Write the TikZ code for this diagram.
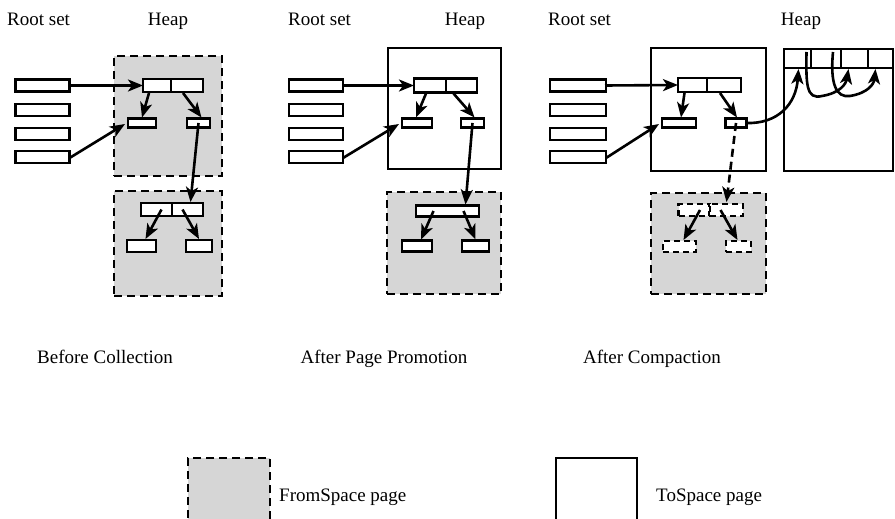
\documentclass[tikz,border=0pt]{standalone}
\usepackage{fontspec}
\setmainfont{Liberation Serif}
\usetikzlibrary{arrows.meta,calc}
\begin{document}
\begin{tikzpicture}[x=1pt,y=-1pt,
  lw/.style={line width=2.6pt},
  cell/.style={lw,draw=black,fill=white,inner sep=0pt,outer sep=0pt,minimum width=#1},
  dcell/.style={cell=#1,dash pattern=on 6pt off 4pt},
  frompage/.style={lw,draw=black,fill=gray!32,dash pattern=on 8pt off 5pt,inner sep=0pt,outer sep=0pt},
  topage/.style={lw,draw=black,fill=white,inner sep=0pt,outer sep=0pt},
  ptr/.style={lw,-{Stealth[length=15pt,width=12pt,inset=4pt]}},
  lbl/.style={font=\fontsize{19}{22}\selectfont,inner sep=0pt}
]
\useasboundingbox (0,0) rectangle (895,519);

% ---------------- titles
\foreach \x/\n in {7/a,288/b,548/c}{
  \node[lbl,anchor=base west] (rs\n) at (\x,26) {Root set};}
\node[lbl,anchor=base] (hp1) at (168,26) {Heap};
\node[lbl,anchor=base] (hp2) at (465,26) {Heap};
\node[lbl,anchor=base] (hp3) at (801,26) {Heap};

% ---------------- panel 1
\node[frompage,minimum width=108pt,minimum height=120pt] (p1top) at (168,116) {};
\node[frompage,minimum width=108pt,minimum height=105pt] (p1bot) at (168,243.5) {};
\foreach \y/\n in {85.5/a,110/b,134/c,157/d}{
  \node[cell=54pt,minimum height=12pt] (r1\n) at (42.5,\y) {};}
\node[cell=28pt,minimum height=13pt] (o1a) at (157,85.5) {};
\node[cell=32pt,minimum height=13pt] (o1b) at (187,85.5) {};
\node[cell=28pt,minimum height=9pt] (s1l) at (142,123) {};
\node[cell=23pt,minimum height=9pt] (s1r) at (198.5,123) {};
\node[cell=31pt,minimum height=13pt] (o1c) at (156.5,209.5) {};
\node[cell=31pt,minimum height=13pt] (o1d) at (187.5,209.5) {};
\node[cell=29pt,minimum height=12pt] (s1bl) at (141.5,246) {};
\node[cell=26pt,minimum height=12pt] (s1br) at (199,246) {};
\draw[ptr] ($(r1a.east)+(-1,0)$) -- (o1a.west);
\draw[ptr] ($(r1d.east)+(0,1)$) -- ($(s1l.west)+(-3,1)$);
\draw[ptr] ($(o1a.south)+(-8,1)$) -- ($(s1l.north)+(0,-1)$);
\draw[ptr] ($(o1b.south)+(-4,1)$) -- ($(s1r.north)+(3,-1)$);
\draw[ptr] (s1r.center) -- ($(o1d.north)+(3,-1)$);
\draw[ptr] ($(o1c.center)+(5,0)$) -- ($(s1bl.north)+(4,-1)$);
\draw[ptr] ($(o1d.center)+(-5,0)$) -- ($(s1br.north)+(0,-1)$);

% ---------------- panel 2
\node[topage,minimum width=113pt,minimum height=121pt] (h2) at (444.5,108.5) {};
\node[frompage,minimum width=114pt,minimum height=102pt] (p2bot) at (444,243) {};
\foreach \y/\n in {85.5/a,110/b,134/c,157/d}{
  \node[cell=54pt,minimum height=12pt] (r2\n) at (316,\y) {};}
\node[cell=32pt,minimum height=14pt] (o2a) at (430,85.5) {};
\node[cell=31pt,minimum height=14pt] (o2b) at (461.5,85.5) {};
\node[cell=30pt,minimum height=9pt] (s2l) at (417,123) {};
\node[cell=23pt,minimum height=9pt] (s2r) at (472.5,123) {};
\node[cell=63pt,minimum height=11pt] (o2c) at (447.5,211) {};
\node[cell=30pt,minimum height=11pt] (s2bl) at (417,246) {};
\node[cell=27pt,minimum height=11pt] (s2br) at (475.5,246) {};
\draw[ptr] ($(r2a.east)+(-1,0)$) -- (o2a.west);
\draw[ptr] ($(r2d.east)+(0,1)$) -- ($(s2l.west)+(-3,1)$);
\draw[ptr] ($(o2a.south)+(-4,1)$) -- ($(s2l.north)+(-1,-1)$);
\draw[ptr] ($(o2b.south)+(-8,1)$) -- ($(s2r.north)+(2,-1)$);
\draw[ptr] (s2r.center) -- ($(o2c.north)+(18,-1)$);
\draw[ptr] ($(o2c.center)+(-14,0)$) -- ($(s2bl.north)+(4,-1)$);
\draw[ptr] ($(o2c.center)+(16,0)$) -- ($(s2br.north)+(0,-1)$);

% ---------------- panel 3
\node[topage,minimum width=115pt,minimum height=123pt] (h3) at (708.5,109.5) {};
\node[frompage,minimum width=115pt,minimum height=101pt] (p3bot) at (708.5,243.5) {};
\foreach \y/\n in {85.5/a,110/b,134/c,157/d}{
  \node[cell=56pt,minimum height=12pt] (r3\n) at (578,\y) {};}
\node[cell=29pt,minimum height=14pt] (o3a) at (692.5,85) {};
\node[cell=34pt,minimum height=14pt] (o3b) at (724,85) {};
\node[cell=34pt,minimum height=9pt] (s3l) at (679,123) {};
\node[cell=21pt,minimum height=9pt] (s3r) at (736,123) {};
\node[dcell=31pt,minimum height=12pt] (o3c) at (694,210) {};
\node[dcell=33pt,minimum height=12pt] (o3d) at (726.5,210) {};
\node[dcell=33pt,minimum height=11pt] (s3bl) at (679.5,246.5) {};
\node[dcell=25pt,minimum height=11pt] (s3br) at (738.5,246.5) {};
\draw[ptr] ($(r3a.east)+(-1,0)$) -- (o3a.west);
\draw[ptr] ($(r3d.east)+(0,1)$) -- ($(s3l.west)+(-3,1)$);
\draw[ptr] ($(o3a.south)+(-8,1)$) -- ($(s3l.north)+(2,-1)$);
\draw[ptr] ($(o3b.south)+(-4,1)$) -- ($(s3r.north)+(1,-1)$);
\draw[ptr,dash pattern=on 8pt off 5pt] (s3r.center) -- ($(o3d.north)+(0,-2)$);
\draw[ptr] ($(o3c.center)+(6,0)$) -- ($(s3bl.north)+(4,-1)$);
\draw[ptr] ($(o3d.center)+(-6,0)$) -- ($(s3br.north)+(-1,-1)$);

% ToSpace page (new copy)
\node[topage,minimum width=109pt,minimum height=122pt] (t3) at (838.5,110) {};
\node[cell=27pt,minimum height=19pt] (c1) at (797.5,58.5) {};
\node[cell=30pt,minimum height=19pt] (c2) at (826,58.5) {};
\node[cell=27pt,minimum height=19pt] (c3) at (854.5,58.5) {};
\node[cell=25pt,minimum height=19pt] (c4) at (880.5,58.5) {};
\draw[ptr] (s3r.east) .. controls (778,124) and (796,104) .. ($(c1.south)+(1,1)$);
\draw[lw] ($(c1.north)+(9,3)$) .. controls (806,84) and (806,100) .. (822,96);
\draw[ptr] (822,96) .. controls (840,93) and (846,84) .. ($(c3.south)+(-6,1)$);
\draw[lw] ($(c2.north)+(7,3)$) .. controls (830,84) and (836,98) .. (850,96);
\draw[ptr] (850,96) .. controls (868,93) and (874,84) .. ($(c4.south)+(-5,1)$);

% ---------------- captions
\node[lbl,anchor=base] (cap1) at (105,363) {Before Collection};
\node[lbl,anchor=base] (cap2) at (384,363) {After Page Promotion};
\node[lbl,anchor=base] (cap3) at (652,363) {After Compaction};

% ---------------- legend
\node[frompage,minimum width=82pt,minimum height=70pt] (lgf) at (229,493) {};
\node[lbl,anchor=base west] (lgft) at (279,501) {FromSpace page};
\node[topage,minimum width=81pt,minimum height=70pt] (lgt) at (596.5,493) {};
\node[lbl,anchor=base west] (lgtt) at (656,501) {ToSpace page};
\end{tikzpicture}
\end{document}
